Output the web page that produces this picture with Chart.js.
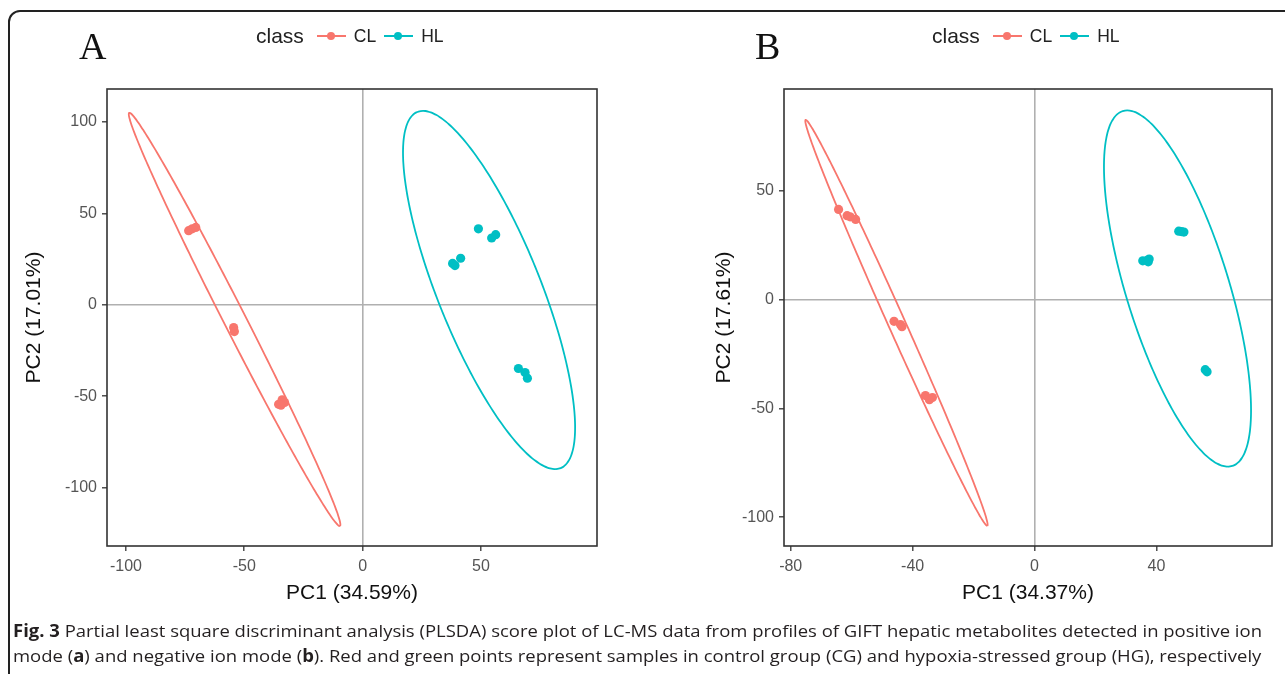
<!DOCTYPE html>
<html>
<head>
<meta charset="utf-8">
<script src="https://cdn.jsdelivr.net/npm/chart.js@4.4.1/dist/chart.umd.min.js"></script>
<style>
  html, body { margin: 0; padding: 0; background: #fff; }
  body { width: 1285px; height: 674px; position: relative; overflow: hidden; }
  .frame { position: absolute; left: 8px; top: 10px; width: 1300px; height: 700px;
           border: 2px solid #222; border-radius: 12px; box-sizing: border-box; }
  canvas { position: absolute; top: 0; }
  .panel-letter { position: absolute; top: 27px; font: 38px "Liberation Serif", "DejaVu Serif", serif;
                  line-height: 1; color: #111; }
  .legend { position: absolute; top: 26px; height: 20px; display: flex; align-items: center;
            font-family: "Liberation Sans", Arial, sans-serif; color: #222; white-space: nowrap; }
  .legend .ttl { font-size: 21px; margin-right: 13px; }
  .legend .lab { font-size: 17.5px; margin-right: 8px; }
  .legend .key { position: relative; width: 29px; height: 20px; margin-right: 8px; }
  .legend .key i { position: absolute; left: 0; right: 0; top: 9px; height: 2px; }
  .legend .key b { position: absolute; left: 10px; top: 6px; width: 8px; height: 8px; border-radius: 50%; }
  .caption { position: absolute; left: 13px; white-space: nowrap; transform-origin: 0 0;
             font: 17px "Open Sans", "Noto Sans", sans-serif; line-height: 1; color: #231f20; }
</style>
</head>
<body>
<div class="frame"></div>
<canvas id="chartA" width="640" height="620" style="left:0px"></canvas>
<canvas id="chartB" width="645" height="620" style="left:640px"></canvas>
<div class="panel-letter" style="left:79px">A</div>
<div class="panel-letter" style="left:755px">B</div>
<div class="legend" id="legendA" style="left:256px"></div>
<div class="legend" id="legendB" style="left:932px"></div>
<div class="caption" id="cap1" style="top:622px"><b>Fig. 3</b> Partial least square discriminant analysis (PLSDA) score plot of LC-MS data from profiles of GIFT hepatic metabolites detected in positive ion</div>
<div class="caption" id="cap2" style="top:647px">mode (<b>a</b>) and negative ion mode (<b>b</b>). Red and green points represent samples in control group (CG) and hypoxia-stressed group (HG), respectively</div>

<script>
// ---------- data ----------
const classes = ['CL', 'HL'];
const classColors = ['#F8766D', '#00BFC4'];

// panel A (positive ion mode)
const clA_x = [-73.5, -72, -70.5, -54.5, -54.2, -35.5, -34, -33, -34.5];
const clA_y = [40.5, 41.5, 42.3, -12.5, -14.7, -54.5, -52, -53.5, -55];
const hlA_x = [48.9, 54.5, 56.2, 38.0, 39.0, 41.4, 65.8, 68.6, 69.6];
const hlA_y = [41.5, 36.5, 38.3, 22.6, 21.4, 25.4, -34.9, -37.1, -40.2];
// ellipse: centre x, centre y, conjugate semi-diameters (ux, uy) and (vx, vy)
const ellClA = [-54.1, -8.05, 44.5, -113.0, 4.14, 2.74];
const ellHlA = [53.4, 8.05, 27.9, -98.0, 23.3, 0];
const xTicksA = [-100, -50, 0, 50];
const yTicksA = [-100, -50, 0, 50, 100];
const xRangeA = [-108, 99];
const yRangeA = [-132, 118];
const xTitleA = 'PC1 (34.59%)';
const yTitleA = 'PC2 (17.01%)';

// panel B (negative ion mode)
const clB_x = [-64.3, -61.5, -60.5, -58.7, -46.1, -44.0, -43.5, -35.8, -34.5, -33.5];
const clB_y = [41.4, 38.5, 38.0, 36.8, -10.0, -11.5, -12.5, -44.1, -46.0, -45.0];
const hlB_x = [35.5, 37.0, 37.6, 37.3, 47.3, 48.2, 49.0, 56.0, 56.6];
const hlB_y = [17.8, 18.0, 18.6, 17.3, 31.4, 31.2, 31.0, -32.2, -33.2];
const ellClB = [-45.3, -10.7, 29.8, -93.2, 2.54, 1.60];
const ellHlB = [46.9, 5.06, 16.5, -81.8, 17.6, 0];
const xTicksB = [-80, -40, 0, 40];
const yTicksB = [-100, -50, 0, 50];
const xRangeB = [-82.2, 77.9];
const yRangeB = [-113.2, 96.7];
const xTitleB = 'PC1 (34.37%)';
const yTitleB = 'PC2 (17.61%)';

// ---------- helpers ----------
function toPoints(xs, ys) {
  return xs.map((x, i) => ({ x: x, y: ys[i] }));
}

function ellipsePath(p) {
  const pts = [];
  for (let i = 0; i <= 144; i++) {
    const t = i / 144 * 2 * Math.PI;
    pts.push({
      x: p[0] + p[2] * Math.cos(t) + p[4] * Math.sin(t),
      y: p[1] + p[3] * Math.cos(t) + p[5] * Math.sin(t)
    });
  }
  return pts;
}

const frameBox = {
  id: 'frameBox',
  afterDraw(chart) {
    const a = chart.chartArea, ctx = chart.ctx;
    ctx.save();
    ctx.strokeStyle = '#333';
    ctx.lineWidth = 1.6;
    ctx.strokeRect(a.left, a.top, a.right - a.left, a.bottom - a.top);
    ctx.restore();
  }
};

const sans = '"Liberation Sans", Arial, Helvetica, sans-serif';

function axis(range, ticks, title, fitFn, isY) {
  return {
    type: 'linear',
    min: range[0],
    max: range[1],
    afterBuildTicks: s => { s.ticks = ticks.map(v => ({ value: v })); },
    afterFit: fitFn,
    border: { display: false },
    grid: {
      color: c => (c.tick && c.tick.value === 0 ? '#b0b0b0' : 'rgba(0,0,0,0)'),
      lineWidth: 1.6,
      drawTicks: true,
      tickLength: 5,
      tickColor: '#333',
      tickWidth: 1.3
    },
    ticks: {
      font: { family: sans, size: 16 },
      color: '#555',
      padding: isY ? 5 : 6,
      maxRotation: 0,
      autoSkip: false
    },
    title: {
      display: true,
      text: title,
      font: { family: sans, size: 21 },
      color: '#111',
      padding: isY ? { top: 22, bottom: 0 } : { top: 0, bottom: 14 }
    }
  };
}

function makePanel(id, d) {
  const ellStyle = { showLine: true, pointRadius: 0, borderWidth: 1.8, fill: false, tension: 0.4 };
  new Chart(document.getElementById(id), {
    type: 'scatter',
    data: {
      datasets: [
        Object.assign({ data: ellipsePath(d.ellCl), borderColor: classColors[0] }, ellStyle),
        Object.assign({ data: ellipsePath(d.ellHl), borderColor: classColors[1] }, ellStyle),
        { label: classes[0], data: toPoints(d.clx, d.cly), pointRadius: 4.6, borderWidth: 0,
          backgroundColor: classColors[0], pointBorderColor: classColors[0] },
        { label: classes[1], data: toPoints(d.hlx, d.hly), pointRadius: 4.6, borderWidth: 0,
          backgroundColor: classColors[1], pointBorderColor: classColors[1] }
      ]
    },
    options: {
      responsive: false,
      animation: false,
      events: [],
      layout: { padding: d.pad },
      plugins: { legend: { display: false }, tooltip: { enabled: false } },
      scales: {
        x: axis(d.xRange, d.xTicks, d.xTitle, s => { s.height = 74; }, false),
        y: axis(d.yRange, d.yTicks, d.yTitle, s => { s.width = d.yWidth; }, true)
      }
    },
    plugins: [frameBox]
  });
}

makePanel('chartA', {
  clx: clA_x, cly: clA_y, hlx: hlA_x, hly: hlA_y, ellCl: ellClA, ellHl: ellHlA,
  xTicks: xTicksA, yTicks: yTicksA, xRange: xRangeA, yRange: yRangeA,
  xTitle: xTitleA, yTitle: yTitleA,
  pad: { top: 89, right: 43, left: 0, bottom: 0 }, yWidth: 107
});

makePanel('chartB', {
  clx: clB_x, cly: clB_y, hlx: hlB_x, hly: hlB_y, ellCl: ellClB, ellHl: ellHlB,
  xTicks: xTicksB, yTicks: yTicksB, xRange: xRangeB, yRange: yRangeB,
  xTitle: xTitleB, yTitle: yTitleB,
  pad: { top: 89, right: 13, left: 50, bottom: 0 }, yWidth: 94
});

// ---------- legends ----------
function buildLegend(el) {
  let html = '<span class="ttl">class</span>';
  classes.forEach((c, i) => {
    html += '<span class="key"><i style="background:' + classColors[i] + '"></i>' +
            '<b style="background:' + classColors[i] + '"></b></span>' +
            '<span class="lab">' + c + '</span>';
  });
  el.innerHTML = html;
}
buildLegend(document.getElementById('legendA'));
buildLegend(document.getElementById('legendB'));

// ---------- caption width fit ----------
const cap1 = document.getElementById('cap1');
const cap2 = document.getElementById('cap2');
const k = 1249 / cap1.getBoundingClientRect().width;
cap1.style.transform = 'scaleX(' + k + ')';
cap2.style.transform = 'scaleX(' + k + ')';
</script>
</body>
</html>
